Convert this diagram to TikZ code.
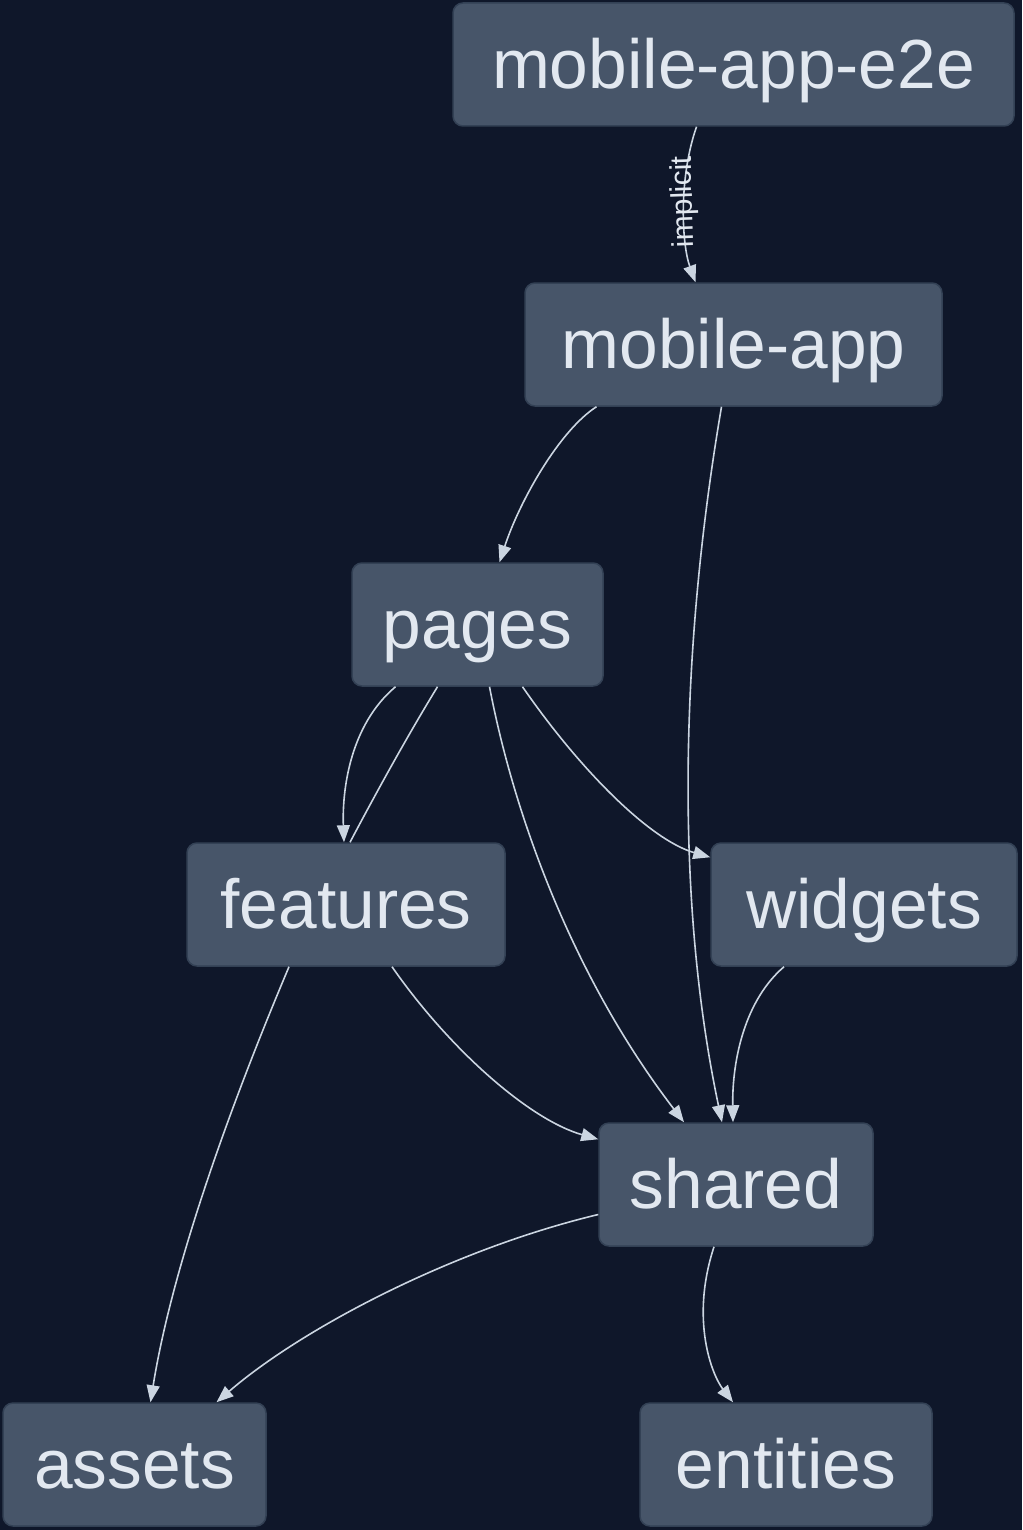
\documentclass[tikz,border=0pt]{standalone}
\usepackage{fontspec}
\setmainfont{Liberation Sans}
\usetikzlibrary{arrows.meta}
\definecolor{graph_bg}{RGB}{15,23,42}
\definecolor{graph_fill}{RGB}{71,85,105}
\definecolor{graph_line}{RGB}{51,65,85}
\definecolor{graph_text}{RGB}{226,232,240}
\definecolor{graph_edge}{RGB}{203,213,225}
\tikzset{
    >=Latex,
    proj_node/.style={
        rectangle,
        rounded corners=10pt,
        draw=graph_line,
        fill=graph_fill,
        line width=1.5pt,
        minimum height=123pt,
        text height=48pt,
        text depth=0pt,
        inner sep=0pt,
        text=graph_text,
        font=\fontsize{69.5}{72}\selectfont,
        align=center
    },
    proj_arrow/.style={
        -{Triangle[length=17pt, width=13pt]},
        line width=1.6pt,
        draw=graph_edge
    },
    proj_link/.style={
        line width=1.6pt,
        draw=graph_edge
    },
    proj_label/.style={
        text=graph_text,
        font=\fontsize{30}{32}\selectfont,
        inner sep=0pt
    }
}

\begin{document}
\begin{tikzpicture}[x=1pt, y=-1pt]

% Canvas
\fill[graph_bg] (0,0) rectangle (1022,1530);
\useasboundingbox (0,0) rectangle (1022,1530);

% Projects
\node[proj_node, minimum width=561pt] (e2e) at (733.5,64.5) {mobile-app-e2e};
\node[proj_node, minimum width=417pt] (app) at (733.5,344.5) {mobile-app};
\node[proj_node, minimum width=251pt] (pages) at (477.5,624.5) {pages};
\node[proj_node, minimum width=318pt] (features) at (346,904.5) {features};
\node[proj_node, minimum width=306pt] (widgets) at (864,904.5) {widgets};
\node[proj_node, minimum width=274pt] (shared) at (736,1184.5) {shared};
\node[proj_node, minimum width=263pt] (assets) at (134.5,1464.5) {assets};
\node[proj_node, minimum width=292pt] (entities) at (786,1464.5) {entities};

% Dependencies
\draw[proj_arrow] ([xshift=-37pt]e2e.south) .. controls (678,180) and (682,245) .. ([xshift=-38pt]app.north)
  node[proj_label, pos=0.4, rotate=92, xshift=-8pt] (implicitLbl) {implicit};
\draw[proj_arrow] ([xshift=-137pt]app.south) .. controls (560,430) and (520,500) .. ([xshift=22pt]pages.north);
\draw[proj_arrow] ([xshift=-12pt]app.south) .. controls (680,650) and (675,900) .. ([xshift=-14pt]shared.north);
\draw[proj_arrow] ([xshift=-82pt]pages.south) .. controls (350,725) and (342,790) .. ([xshift=-2pt]features.north);
\draw[proj_link] ([xshift=-40pt]pages.south) .. controls (405,740) and (375,795) .. ([xshift=4pt]features.north);
\draw[proj_arrow] ([xshift=12pt]pages.south) .. controls (515,820) and (575,980) .. ([xshift=-52pt]shared.north);
\draw[proj_arrow] ([xshift=45pt]pages.south) .. controls (580,770) and (650,840) .. ([yshift=-15pt]widgets.north west);
\draw[proj_arrow] ([xshift=-80pt]widgets.south) .. controls (745,1000) and (732,1060) .. ([xshift=-3pt]shared.north);
\draw[proj_arrow] ([xshift=46pt]features.south) .. controls (450,1050) and (530,1120) .. ([yshift=-17pt]shared.north west);
\draw[proj_arrow] ([xshift=-57pt]features.south) .. controls (220,1130) and (170,1280) .. ([xshift=16pt]assets.north);
\draw[proj_arrow] ([yshift=-30pt]shared.west) .. controls (450,1250) and (300,1330) .. ([xshift=82pt]assets.north);
\draw[proj_arrow] ([xshift=-22pt]shared.south) .. controls (690,1320) and (712,1375) .. ([xshift=-53pt]entities.north);

\end{tikzpicture}
\end{document}
